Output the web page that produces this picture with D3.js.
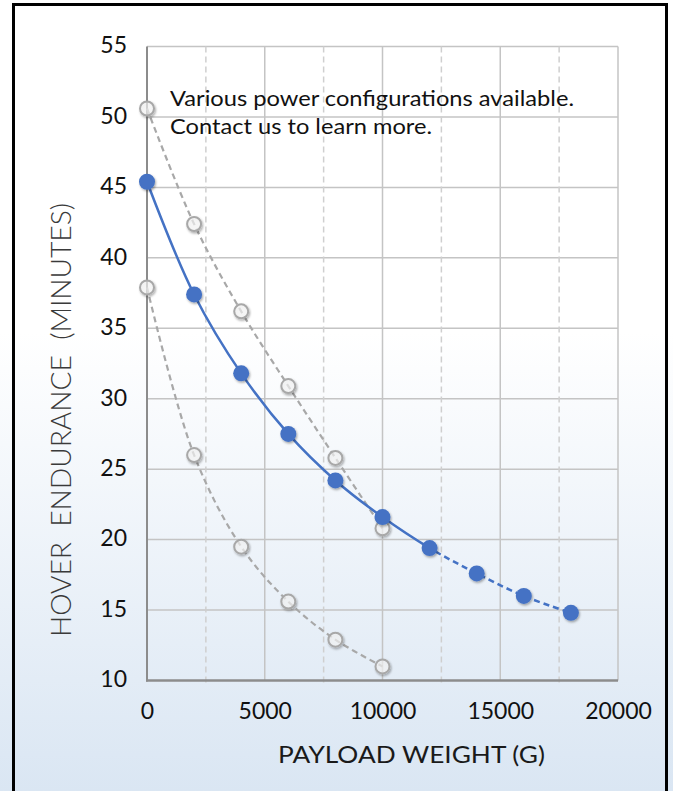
<!DOCTYPE html>
<html><head><meta charset="utf-8">
<script src="https://cdn.jsdelivr.net/npm/d3@7"></script>
<style>html,body{margin:0;padding:0;background:#fff;}svg{display:block;}</style>
</head><body>
<script>
// ---- data ----
const payload = [0, 2000, 4000, 6000, 8000, 10000, 12000, 14000, 16000, 18000];
const mainEndurance = [45.4, 37.4, 31.8, 27.5, 24.2, 21.6, 19.4, 17.6, 16.0, 14.8];
const highEndurance = [50.6, 42.4, 36.2, 30.9, 25.8, 20.8];
const lowEndurance  = [37.9, 26.0, 19.5, 15.6, 12.9, 11.0];
const solidUntil = 12000;
const xTicks = [0, 5000, 10000, 15000, 20000];
const xMinor = [2500, 7500, 12500, 17500];
const yTicks = [10, 15, 20, 25, 30, 35, 40, 45, 50, 55];
const noteLines = ["Various power configurations available.", "Contact us to learn more."];
const xTitle = "PAYLOAD WEIGHT (G)";
const yTitle = "HOVER  ENDURANCE  (MINUTES)";

const W = 673, H = 791;
const svg = d3.select("body").append("svg").attr("width", W).attr("height", H);
const defs = svg.append("defs");
const grad = defs.append("linearGradient").attr("id", "bg").attr("x1", 0).attr("y1", 0).attr("x2", 0).attr("y2", 1);
grad.append("stop").attr("offset", "0%").attr("stop-color", "#ffffff");
grad.append("stop").attr("offset", "42%").attr("stop-color", "#ffffff");
grad.append("stop").attr("offset", "100%").attr("stop-color", "#dae6f3");
const f = defs.append("filter").attr("id", "sh").attr("x", "-50%").attr("y", "-50%").attr("width", "200%").attr("height", "200%");
f.append("feDropShadow").attr("dx", 1).attr("dy", 1.5).attr("stdDeviation", 1.3).attr("flood-color", "#000").attr("flood-opacity", 0.35);

svg.append("rect").attr("width", W).attr("height", H).attr("fill", "url(#bg)");
svg.append("rect").attr("x", 13.5).attr("y", 4.5).attr("width", 653).attr("height", 800)
  .attr("fill", "none").attr("stroke", "#000").attr("stroke-width", 3);

const x = d3.scaleLinear().domain([0, 20000]).range([147, 618]);
const y = d3.scaleLinear().domain([10, 55]).range([680.5, 46.5]);

const font = "Lato, 'Liberation Sans', sans-serif";

// grid
const g = svg.append("g");
g.selectAll(".hy").data(yTicks.slice(1)).join("line")
  .attr("x1", x(0)).attr("x2", x(20000)).attr("y1", d => y(d)).attr("y2", d => y(d))
  .attr("stroke", "#c4c4c4").attr("stroke-width", 1.5);
g.selectAll(".vx").data(xTicks.slice(1)).join("line")
  .attr("x1", d => x(d)).attr("x2", d => x(d)).attr("y1", y(55)).attr("y2", y(10))
  .attr("stroke", "#c4c4c4").attr("stroke-width", 1.5);
g.selectAll(".vm").data(xMinor).join("line")
  .attr("x1", d => x(d)).attr("x2", d => x(d)).attr("y1", y(55)).attr("y2", y(10) + 4)
  .attr("stroke", "#cfcfcf").attr("stroke-width", 1.5).attr("stroke-dasharray", "6,4");

// axes lines
svg.append("line").attr("x1", x(0)).attr("x2", x(0)).attr("y1", y(55)).attr("y2", y(10) + 1)
  .attr("stroke", "#8c8c8c").attr("stroke-width", 2);
svg.append("line").attr("x1", x(0) - 1).attr("x2", x(20000)).attr("y1", y(10)).attr("y2", y(10))
  .attr("stroke", "#8c8c8c").attr("stroke-width", 2.5);

// tick labels
const xAxis = d3.axisBottom(x).tickValues(xTicks).tickSize(0).tickPadding(0).tickFormat(d3.format("d"));
const xa = svg.append("g").attr("transform", `translate(0,${y(10)})`).call(xAxis);
xa.select(".domain").remove();
xa.selectAll("text").attr("font-family", font).attr("font-size", 23).attr("fill", "#111")
  .attr("dy", null).attr("y", 38);
const yAxis = d3.axisLeft(y).tickValues(yTicks).tickSize(0).tickPadding(0);
const ya = svg.append("g").attr("transform", `translate(127,0)`).call(yAxis);
ya.select(".domain").remove();
ya.selectAll("text").attr("font-family", font).attr("font-size", 23).attr("fill", "#111")
  .attr("dy", "0.32em").attr("x", 0).attr("y", -1);

// titles
svg.append("text").attr("x", 278).attr("y", 763).attr("font-family", font).attr("font-size", 24)
  .attr("fill", "#1a1a1a").attr("textLength", 267).attr("lengthAdjust", "spacingAndGlyphs").text(xTitle);
svg.append("text").attr("transform", "translate(71,637) rotate(-90)").attr("font-family", font)
  .attr("font-size", 27).attr("font-weight", 300).attr("fill", "#3a3a3a")
  .style("white-space", "pre").attr("xml:space", "preserve")
  .attr("textLength", 434).attr("lengthAdjust", "spacingAndGlyphs").text(yTitle);

// note
svg.selectAll(".note").data(noteLines).join("text")
  .attr("x", 170).attr("y", (d, i) => 106 + i * 28)
  .attr("font-family", font).attr("font-size", 21).attr("fill", "#111")
  .attr("textLength", (d, i) => i === 0 ? 404 : 262).attr("lengthAdjust", "spacingAndGlyphs")
  .text(d => d);

// series
const line = d3.line().x(d => x(d[0])).y(d => y(d[1])).curve(d3.curveCatmullRom.alpha(0.5));
function pts(vals) { return vals.map((v, i) => [payload[i], v]); }

[highEndurance, lowEndurance].forEach(vals => {
  svg.append("path").attr("d", line(pts(vals))).attr("fill", "none")
    .attr("stroke", "#a8a8a8").attr("stroke-width", 2.2).attr("stroke-dasharray", "6,4");
});
[highEndurance, lowEndurance].forEach(vals => {
  svg.append("g").selectAll("circle").data(pts(vals)).join("circle")
    .attr("cx", d => x(d[0])).attr("cy", d => y(d[1])).attr("r", 7)
    .attr("fill", "#ffffff").attr("fill-opacity", 0.6)
    .attr("stroke", "#a8a8a8").attr("stroke-width", 2).attr("filter", "url(#sh)");
});

defs.append("clipPath").attr("id", "cs").append("rect")
  .attr("x", 0).attr("y", 0).attr("width", x(solidUntil)).attr("height", H);
defs.append("clipPath").attr("id", "cd").append("rect")
  .attr("x", x(solidUntil)).attr("y", 0).attr("width", W).attr("height", H);
const mainPts = pts(mainEndurance);
svg.append("path").attr("d", line(mainPts)).attr("fill", "none").attr("clip-path", "url(#cs)")
  .attr("stroke", "#4472c4").attr("stroke-width", 2.5);
svg.append("path").attr("d", line(mainPts)).attr("fill", "none").attr("clip-path", "url(#cd)")
  .attr("stroke", "#4472c4").attr("stroke-width", 2.5).attr("stroke-dasharray", "6,4");
svg.append("g").selectAll("circle").data(mainPts).join("circle")
  .attr("cx", d => x(d[0])).attr("cy", d => y(d[1])).attr("r", 8)
  .attr("fill", "#4472c4").attr("filter", "url(#sh)");
</script>
</body></html>
